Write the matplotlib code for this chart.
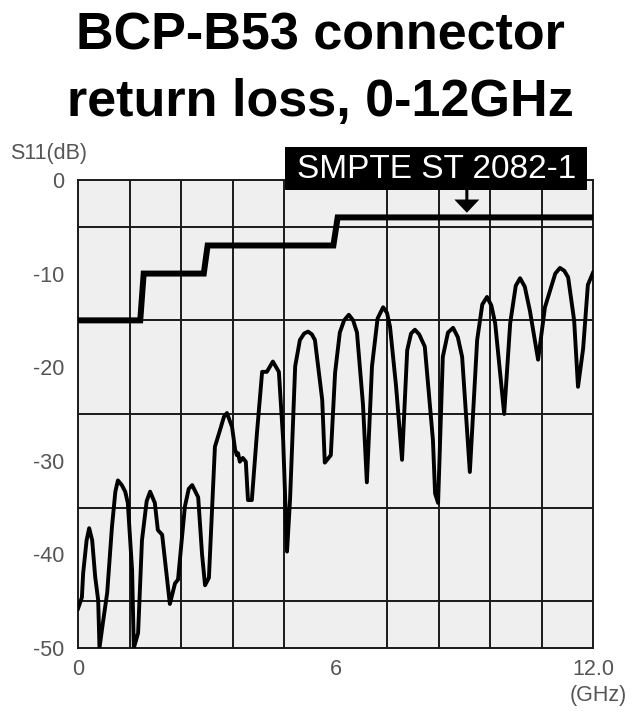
# BCP-B53 connector return loss chart

import matplotlib.pyplot as plt
from matplotlib.patches import Rectangle

# S11 measured curve (GHz, dB)
freq = [0.0, 0.09, 0.12, 0.2, 0.26, 0.33, 0.40, 0.47, 0.50, 0.58, 0.68, 0.79, 0.87, 0.93,
        1.02, 1.10, 1.16, 1.26, 1.30, 1.40, 1.49, 1.60, 1.68, 1.79, 1.86, 1.96, 2.14,
        2.26, 2.33, 2.49, 2.58, 2.66, 2.80, 2.89, 2.96, 3.05, 3.19, 3.31, 3.40, 3.47,
        3.59, 3.66, 3.70, 3.73, 3.77, 3.84, 3.91, 3.96, 4.05, 4.17, 4.29, 4.40, 4.54,
        4.68, 4.78, 4.87, 4.94, 5.06, 5.17, 5.27, 5.36, 5.45, 5.52, 5.69, 5.75, 5.89,
        5.99, 6.10, 6.20, 6.31, 6.41, 6.50, 6.64, 6.73, 6.85, 6.98, 7.11, 7.20, 7.27,
        7.41, 7.55, 7.67, 7.76, 7.85, 7.95, 8.08, 8.27, 8.32, 8.39, 8.50, 8.62, 8.74,
        8.85, 8.95, 9.13, 9.30, 9.42, 9.53, 9.63, 9.72, 9.93, 10.07, 10.20, 10.30,
        10.41, 10.53, 10.72, 10.88, 11.00, 11.12, 11.23, 11.33, 11.42, 11.56, 11.65,
        11.77, 11.88, 12.0]
s11 = [-45.8, -44.6, -42.0, -38.5, -37.2, -38.5, -42.4, -44.9, -50.0, -47.3, -44.1, -37.1, -33.3, -32.1,
       -32.6, -33.3, -34.5, -41.7, -50.0, -48.4, -38.5, -34.3, -33.3, -34.5, -37.4, -37.9, -45.3,
       -43.1, -42.7, -34.9, -33.0, -32.6, -33.9, -40.0, -43.3, -42.5, -28.5, -26.7, -25.3, -24.9,
       -26.4, -28.8, -29.4, -29.2, -30.1, -29.7, -30.1, -34.2, -34.2, -27.0, -20.5, -20.5, -19.4,
       -20.5, -27.8, -39.7, -34.2, -19.9, -17.1, -16.4, -16.2, -16.5, -17.1, -23.5, -30.2, -29.4,
       -20.6, -16.3, -15.0, -14.4, -15.0, -16.3, -24.0, -32.3, -19.9, -14.8, -13.6, -14.2, -15.7,
       -22.0, -29.9, -18.2, -16.4, -16.0, -16.5, -17.8, -27.8, -33.5, -34.5, -18.9, -16.3, -15.8,
       -16.8, -18.9, -31.2, -17.1, -13.3, -12.5, -13.4, -15.3, -25.0, -15.3, -11.3, -10.5,
       -11.4, -14.0, -19.2, -13.6, -11.8, -10.0, -9.4, -9.7, -10.4, -15.0, -22.1,
       -18.0, -11.2, -9.9]

# SMPTE ST 2082-1 mask
mask_freq = [0, 1.45, 1.53, 2.93, 3.02, 5.95, 6.05, 12]
mask_db = [-15, -15, -10, -10, -7, -7, -4, -4]

plt.rcParams['font.family'] = ['Liberation Sans', 'DejaVu Sans']
plt.rcParams['axes.unicode_minus'] = False

fig = plt.figure(figsize=(6.4, 7.19), dpi=100)
ax = fig.add_axes([0.1219, 0.0988, 0.8047, 0.6509])
ax.set_facecolor('#efefef')

ax.plot(mask_freq, mask_db, color='black', linewidth=4.3, solid_joinstyle='miter', zorder=3)
ax.plot(freq, s11, color='black', linewidth=2.8, solid_joinstyle='round', zorder=3)

ax.set_xlim(0, 12)
ax.set_ylim(-50, 0)
ax.set_xticks([i * 1.2 for i in range(11)], minor=True)
ax.set_xticks([0, 6, 12])
ax.set_xticklabels(['0', '6', '12.0'])
ax.set_yticks([-5 * i for i in range(11)], minor=True)
ax.set_yticks([0, -10, -20, -30, -40, -50])
ax.grid(which='minor', color='#1a1a1a', linewidth=1.4)
ax.tick_params(which='both', length=0, labelsize=15.5, labelcolor='#555555')
ax.tick_params(axis='x', pad=8)
ax.tick_params(axis='y', pad=10)
for s in ax.spines.values():
    s.set_color('#1a1a1a')
    s.set_linewidth(1.4)

fig.text(0.5, 1 - 50 / 719, 'BCP-B53 connector', ha='center', va='baseline',
         fontsize=37.5, fontweight='bold')
fig.text(0.5, 1 - 116 / 719, 'return loss, 0-12GHz', ha='center', va='baseline',
         fontsize=37.5, fontweight='bold')
fig.text(0.016, 0.786, 'S11(dB)', ha='left', va='center', fontsize=15.5, color='#555555')
fig.text(0.934, 0.032, '(GHz)', ha='center', va='center', fontsize=15.5, color='#555555')

# label box + arrow
ax.add_patch(Rectangle((4.82, -1.07), 7.04, 4.6, facecolor='black', edgecolor='none',
                       clip_on=False, zorder=5))
ax.text(8.35, 1.07, 'SMPTE ST 2082-1', ha='center', va='center', color='white',
        fontsize=24, zorder=6, clip_on=False)
ax.annotate('', xy=(9.06, -3.5), xytext=(9.06, -1.0),
            arrowprops=dict(facecolor='black', edgecolor='none', width=2.2,
                            headwidth=18, headlength=9.5, shrink=0),
            zorder=6)

plt.savefig('out.png', dpi=100)
